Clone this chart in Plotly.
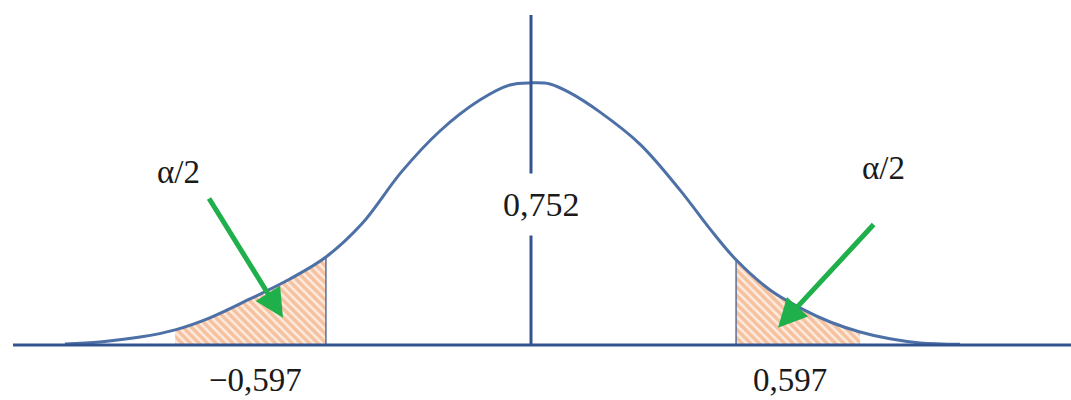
import plotly.graph_objects as go

# bell curve (x in units of the critical value, y same scale)
curve_x = [-1.357, -1.255, -1.138, -1.036, -0.935, -0.818, -0.702, -0.597,
           -0.493, -0.377, -0.265, -0.149, -0.061, 0.000, 0.055, 0.114,
           0.201, 0.317, 0.434, 0.521, 0.597, 0.696, 0.783, 0.871, 0.958,
           1.045, 1.133, 1.249]
curve_y = [0.003, 0.009, 0.023, 0.044, 0.079, 0.134, 0.192, 0.256,
           0.352, 0.504, 0.623, 0.713, 0.757, 0.763, 0.760, 0.734,
           0.678, 0.585, 0.451, 0.338, 0.248, 0.160, 0.108, 0.067, 0.038,
           0.018, 0.006, 0.002]

crit = 0.597
centre_label = '0,752'
tail_label = 'α/2'
crit_labels = ['\u22120,597', '0,597']

curve_col = '#4D70A6'
axis_col = '#34548F'
arrow_col = '#1FAF4B'
hatch_col = '#F0965C'

X0, X1 = -531 / 343.5, 540 / 343.5
Y0, Y1 = -55 / 343.5, 345 / 343.5

fig = go.Figure()

# hatched tails
for lo, hi in [(-1.04, -crit), (crit, 0.98)]:
    sx = [x for x in curve_x if lo <= x <= hi]
    sy = [y for x, y in zip(curve_x, curve_y) if lo <= x <= hi]
    fig.add_trace(go.Scatter(
        x=sx, y=sy, mode='lines', line=dict(width=0, shape='spline'),
        fill='tozeroy', fillcolor='#FDEEE4',
        fillpattern=dict(shape='\\', fgcolor=hatch_col, bgcolor='#FDEDE2',
                         size=6, solidity=0.6),
        hoverinfo='skip'))

# edges of the tails
for c in (-crit, crit):
    cy = curve_y[curve_x.index(c)]
    fig.add_trace(go.Scatter(x=[c, c], y=[0, cy], mode='lines',
                             line=dict(color='#5A6F95', width=1.5), hoverinfo='skip'))

fig.add_trace(go.Scatter(x=curve_x, y=curve_y, mode='lines',
                         line=dict(color=curve_col, width=3, shape='spline', smoothing=1),
                         hoverinfo='skip'))

# axis lines
fig.add_shape(type='line', xref='x', yref='y', x0=-1.508, x1=X1, y0=0, y1=0,
              line=dict(color=axis_col, width=3))
fig.add_shape(type='line', xref='x', yref='y', x0=0, x1=0, y0=0, y1=0.961,
              line=dict(color=axis_col, width=3))

font = dict(family='Liberation Serif, Times New Roman, serif', color='#1a1a1a')

fig.add_annotation(x=0.032, y=0.41, text=centre_label, showarrow=False,
                   font=dict(size=34, **font), bgcolor='white', borderpad=12)
fig.add_annotation(x=-1.025, y=0.504, text=tail_label, showarrow=False,
                   font=dict(size=33, **font))
fig.add_annotation(x=1.025, y=0.515, text=tail_label, showarrow=False,
                   font=dict(size=33, **font))
fig.add_annotation(x=-0.8035, y=-0.102, text=crit_labels[0], showarrow=False,
                   font=dict(size=33, **font), borderpad=0)
fig.add_annotation(x=0.754, y=-0.102, text=crit_labels[1], showarrow=False,
                   font=dict(size=33, **font), borderpad=0)

# green arrows
for tip, tail in [((-0.722, 0.079), (-0.940, 0.431)), ((0.719, 0.050), (1.0015, 0.355))]:
    fig.add_annotation(x=tip[0], y=tip[1], ax=tail[0], ay=tail[1],
                       xref='x', yref='y', axref='x', ayref='y', text='',
                       showarrow=True, arrowhead=2, arrowsize=1.15, arrowwidth=5,
                       arrowcolor=arrow_col, standoff=0)

fig.update_layout(
    width=1071, height=400,
    margin=dict(l=0, r=0, t=0, b=0),
    paper_bgcolor='white', plot_bgcolor='white',
    showlegend=False,
    xaxis=dict(range=[X0, X1], visible=False, fixedrange=True),
    yaxis=dict(range=[Y0, Y1], visible=False, fixedrange=True),
)

fig.write_html('out.html', config=dict(displayModeBar=False),
               post_script="document.body.style.margin='0';document.body.style.overflow='hidden';")
